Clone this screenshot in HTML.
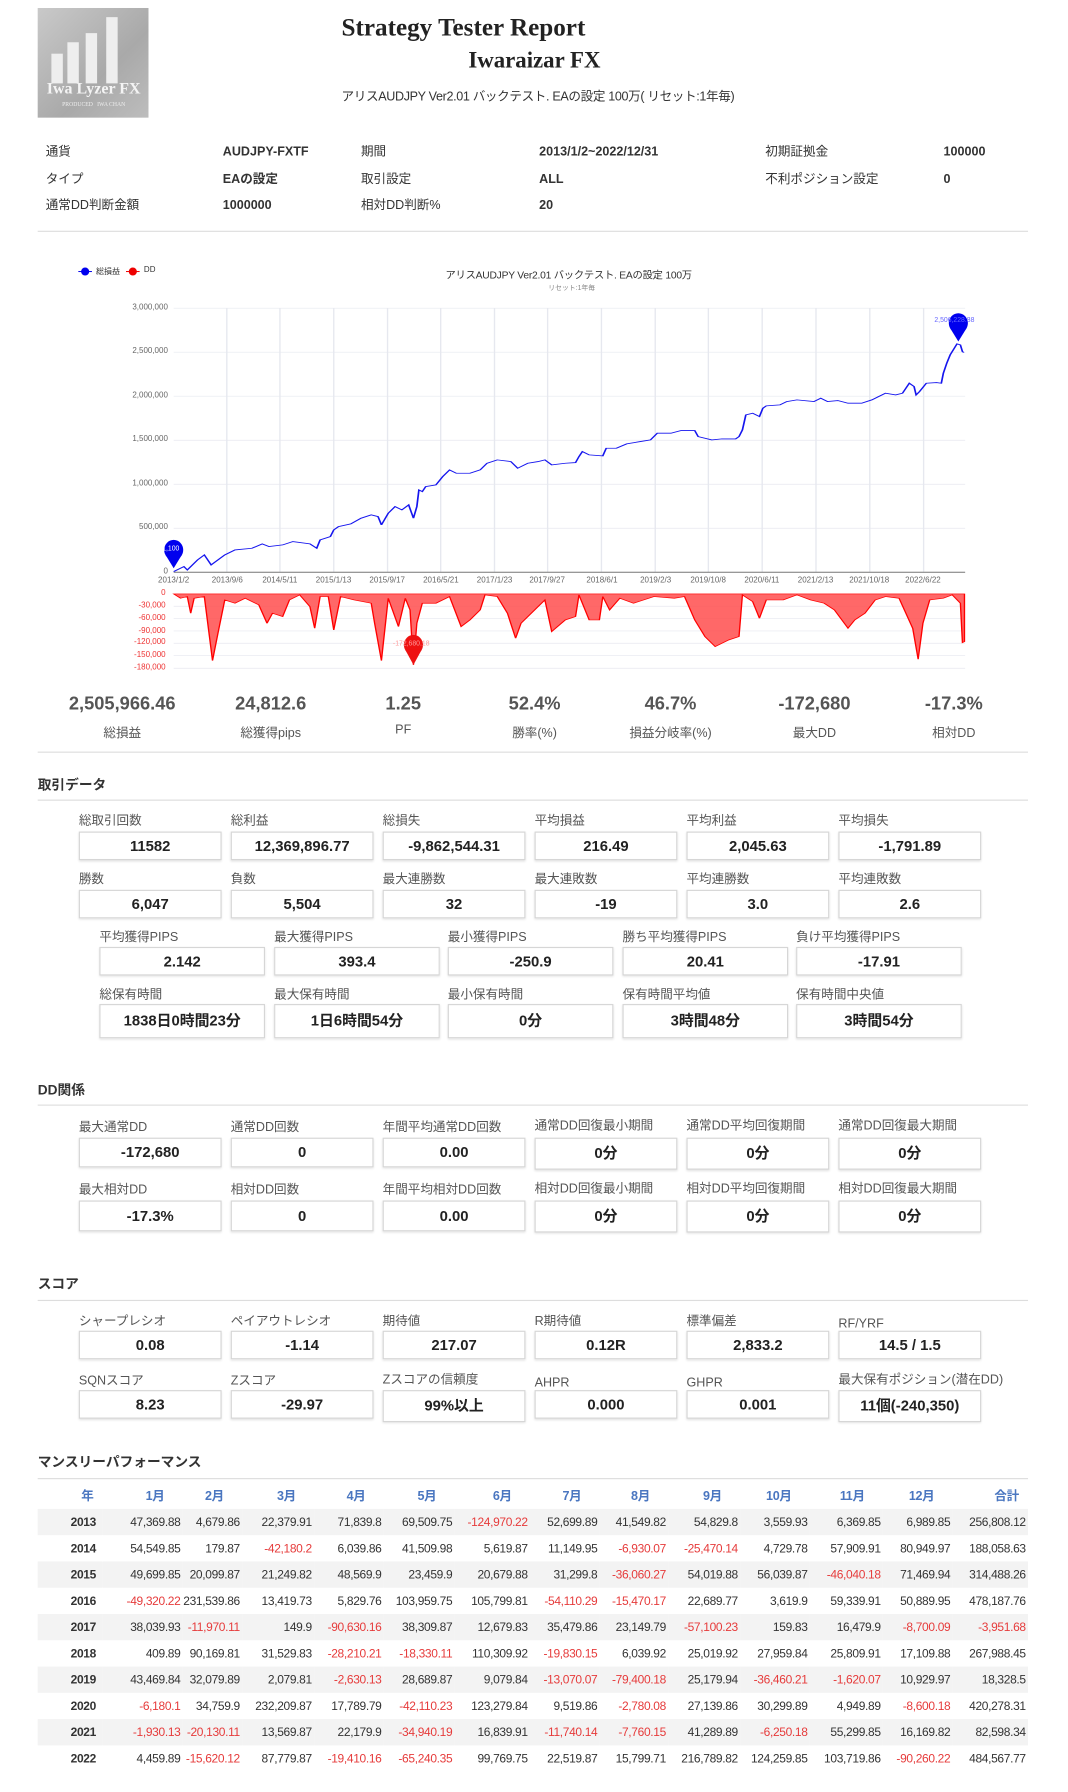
<!DOCTYPE html>
<html><head><meta charset="utf-8">
<style>
html,body{margin:0;padding:0;background:#fff;overflow:hidden;width:1068px;height:1792px}
#w{position:absolute;left:0;top:0;width:935px;height:1569px;transform:scale(1.14225);transform-origin:0 0;font-family:"Liberation Sans","Noto Sans CJK JP",sans-serif;color:#333}
.a{position:absolute;white-space:nowrap}
.lb{position:absolute;font-size:11px;color:#555;line-height:12px;white-space:nowrap}
.bx{position:absolute;border:1px solid #d6d6d6;box-shadow:0 1px 2px rgba(0,0,0,.12);text-align:center;font-weight:bold;font-size:13px;color:#222;box-sizing:border-box;white-space:nowrap}
.hr{position:absolute;left:33px;width:867px;height:1px;background:#ddd}
.h{position:absolute;left:33px;font-size:12px;font-weight:bold;color:#333}
.it{position:absolute;font-size:11px;line-height:12px}
.itb{position:absolute;font-size:11px;line-height:12px;font-weight:bold}
.sv{position:absolute;font-size:16px;font-weight:bold;color:#555;transform:translateX(-50%);white-space:nowrap}
.sl{position:absolute;font-size:11px;color:#555;transform:translateX(-50%);white-space:nowrap}
.yl{position:absolute;font-size:7px;color:#666;text-align:right;width:60px;line-height:8px}
.xl{position:absolute;font-size:7px;color:#666;transform:translateX(-50%);white-space:nowrap;line-height:8px}
.dl{position:absolute;font-size:7px;color:#e33;text-align:right;width:60px;line-height:8px}
table{position:absolute;left:33px;top:1296px;width:867px;border-collapse:collapse;font-size:10.5px;letter-spacing:-0.3px;table-layout:fixed}
td{height:23px;padding:0 2px 0 0;text-align:right;white-space:nowrap;color:#333;box-sizing:border-box;overflow:visible}
th{height:25px;color:#4a76c0;font-weight:bold;text-align:right;padding-right:16px;font-size:11px;box-sizing:border-box}
tr.g td{background:#f3f3f3}
td.y{font-weight:bold;padding-right:6px}
.n{color:#e63b3b!important}
</style></head><body><div id="w">

<div class="a" style="left:33px;top:7px;width:97px;height:96px;background:linear-gradient(135deg,#c9c9c9,#a9a9a9 60%,#bdbdbd);overflow:hidden">
 <div class="a" style="left:12px;top:40px;width:10px;height:26px;background:#eee"></div>
 <div class="a" style="left:26px;top:30px;width:10px;height:36px;background:#eee"></div>
 <div class="a" style="left:42px;top:22px;width:10px;height:44px;background:#eee"></div>
 <div class="a" style="left:60px;top:8px;width:10px;height:58px;background:#eee"></div>
 <div class="a" style="left:3px;top:64px;width:92px;text-align:center;font-family:'Liberation Serif',serif;font-size:14px;font-weight:bold;color:#f4f4f4">Iwa Lyzer FX</div>
 <div class="a" style="left:5px;top:83px;width:88px;text-align:center;font-family:'Liberation Serif',serif;font-size:5px;color:#eee">PRODUCED &nbsp; IWA CHAN</div>
</div>
<div class="a" style="left:299px;top:11px;font-family:'Liberation Serif',serif;font-size:22px;font-weight:bold;color:#222">Strategy Tester Report</div>
<div class="a" style="left:410px;top:42px;font-family:'Liberation Serif',serif;font-size:20px;font-weight:bold;color:#222">Iwaraizar FX</div>
<div class="a" style="left:299px;top:76px;font-size:11px;color:#333;letter-spacing:-0.3px">アリスAUDJPY Ver2.01 バックテスト. EAの設定 100万( リセット:1年毎)</div>

<div class="it" style="left:40px;top:127px">通貨</div><div class="itb" style="left:195px;top:127px">AUDJPY-FXTF</div>
<div class="it" style="left:316px;top:127px">期間</div><div class="itb" style="left:472px;top:127px">2013/1/2~2022/12/31</div>
<div class="it" style="left:670px;top:127px">初期証拠金</div><div class="itb" style="left:826px;top:127px">100000</div>
<div class="it" style="left:40px;top:151px">タイプ</div><div class="itb" style="left:195px;top:151px">EAの設定</div>
<div class="it" style="left:316px;top:151px">取引設定</div><div class="itb" style="left:472px;top:151px">ALL</div>
<div class="it" style="left:670px;top:151px">不利ポジション設定</div><div class="itb" style="left:826px;top:151px">0</div>
<div class="it" style="left:40px;top:174px">通常DD判断金額</div><div class="itb" style="left:195px;top:174px">1000000</div>
<div class="it" style="left:316px;top:174px">相対DD判断%</div><div class="itb" style="left:472px;top:174px">20</div>
<div class="hr" style="top:202px"></div>

<svg class="a" style="left:0;top:210.2px" width="935" height="455.3" viewBox="0 0 1568 1560" preserveAspectRatio="none">
<g stroke="#e6e8ef" stroke-width="2">
<line x1="255" y1="205" x2="1417" y2="205"/><line x1="255" y1="337" x2="1417" y2="337"/><line x1="255" y1="469" x2="1417" y2="469"/><line x1="255" y1="601" x2="1417" y2="601"/><line x1="255" y1="733" x2="1417" y2="733"/><line x1="255" y1="865" x2="1417" y2="865"/>
<line x1="333" y1="205" x2="333" y2="997"/><line x1="411" y1="205" x2="411" y2="997"/><line x1="490" y1="205" x2="490" y2="997"/><line x1="569" y1="205" x2="569" y2="997"/><line x1="647" y1="205" x2="647" y2="997"/><line x1="726" y1="205" x2="726" y2="997"/><line x1="804" y1="205" x2="804" y2="997"/><line x1="883" y1="205" x2="883" y2="997"/><line x1="962" y1="205" x2="962" y2="997"/><line x1="1040" y1="205" x2="1040" y2="997"/><line x1="1119" y1="205" x2="1119" y2="997"/><line x1="1198" y1="205" x2="1198" y2="997"/><line x1="1277" y1="205" x2="1277" y2="997"/><line x1="1356" y1="205" x2="1356" y2="997"/>
<line x1="255" y1="1099" x2="1417" y2="1099"/><line x1="255" y1="1136" x2="1417" y2="1136"/><line x1="255" y1="1173" x2="1417" y2="1173"/><line x1="255" y1="1210" x2="1417" y2="1210"/><line x1="255" y1="1247" x2="1417" y2="1247"/><line x1="255" y1="1285" x2="1417" y2="1285"/>
</g>
<line x1="255" y1="997" x2="1417" y2="997" stroke="#777" stroke-width="3"/>
<polygon fill="#ff4d4d" fill-opacity="0.85" stroke="#f00" stroke-width="2" points="255,1062 265,1075 275,1070 280,1120 285,1075 300,1070 305,1150 312,1262 320,1180 325,1130 330,1080 345,1090 360,1075 380,1095 392,1150 400,1120 415,1130 425,1080 440,1065 455,1100 462,1165 470,1070 482,1070 490,1170 500,1070 520,1080 545,1090 550,1150 560,1262 570,1075 585,1160 595,1075 602,1110 607,1275 612,1150 620,1090 640,1090 660,1070 677,1160 690,1140 705,1110 712,1065 730,1070 745,1120 757,1195 765,1150 785,1110 800,1080 810,1175 830,1140 845,1130 850,1065 865,1140 880,1140 885,1070 895,1110 910,1075 930,1090 960,1070 990,1075 1005,1070 1020,1140 1035,1190 1050,1220 1070,1200 1085,1190 1090,1065 1105,1085 1115,1135 1125,1080 1150,1080 1170,1065 1190,1080 1210,1090 1225,1110 1245,1165 1255,1140 1270,1120 1285,1080 1300,1070 1320,1075 1340,1165 1348,1258 1355,1150 1365,1080 1385,1075 1398,1065 1410,1090 1413,1208 1416,1205 1416,1062"/>
<polyline fill="none" stroke="#1515ee" stroke-width="2.5" points="255,995 270,980 275,990 290,960 300,945 310,975 330,945 345,930 370,925 385,912 395,920 415,915 430,905 455,912 465,925 470,900 485,890 490,870 497,860 515,852 530,835 545,825 555,830 560,855 570,820 580,800 590,810 600,795 607,835 612,800 615,750 620,755 625,740 640,735 650,710 660,690 670,700 690,700 705,690 715,670 730,660 750,665 760,685 775,670 790,665 800,660 810,675 830,670 845,668 850,650 855,635 865,645 885,648 890,625 905,625 920,612 940,605 955,600 965,580 985,580 1000,572 1020,572 1025,590 1045,600 1060,597 1080,597 1085,590 1090,570 1095,525 1105,520 1115,530 1120,505 1125,498 1145,495 1155,485 1170,480 1195,485 1205,475 1215,485 1230,482 1245,490 1265,490 1280,480 1290,470 1300,460 1315,465 1325,460 1335,430 1342,440 1345,465 1350,455 1360,430 1375,428 1382,430 1385,400 1390,370 1395,345 1405,312 1410,315 1413,335 1415,338"/>
<ellipse cx="255" cy="930" rx="14" ry="30" fill="#0000ee"/><polygon points="243,945 267,945 255,985" fill="#0000ee"/>
<ellipse cx="1407" cy="250" rx="14" ry="30" fill="#0000ee"/><polygon points="1395,265 1419,265 1407,305" fill="#0000ee"/>
<ellipse cx="607" cy="1215" rx="14" ry="30" fill="#ee1111"/><polygon points="595,1230 619,1230 607,1275" fill="#ee1111"/>
<line x1="115" y1="95" x2="135" y2="95" stroke="#00e" stroke-width="3"/><ellipse cx="125" cy="95" rx="6" ry="12" fill="#00e"/>
<line x1="185" y1="95" x2="205" y2="95" stroke="#e00" stroke-width="3"/><ellipse cx="195" cy="95" rx="6" ry="12" fill="#e00"/>
</svg>
<div class="a" style="left:84px;top:233px;font-size:7px;color:#333">総損益</div>
<div class="a" style="left:126px;top:233px;font-size:7px;color:#333">DD</div>
<div class="a" style="left:390px;top:234px;font-size:9px;color:#333;letter-spacing:-0.2px">アリスAUDJPY Ver2.01 バックテスト. EAの設定 100万</div>
<div class="a" style="left:480px;top:247px;font-size:6px;color:#888">リセット:1年毎</div>
<div class="yl" style="left:87px;top:266px">3,000,000</div>
<div class="yl" style="left:87px;top:304px">2,500,000</div>
<div class="yl" style="left:87px;top:343px">2,000,000</div>
<div class="yl" style="left:87px;top:381px">1,500,000</div>
<div class="yl" style="left:87px;top:420px">1,000,000</div>
<div class="yl" style="left:87px;top:458px">500,000</div>
<div class="yl" style="left:87px;top:497px">0</div>
<div class="xl" style="left:152px;top:505px">2013/1/2</div><div class="xl" style="left:199px;top:505px">2013/9/6</div><div class="xl" style="left:245px;top:505px">2014/5/11</div><div class="xl" style="left:292px;top:505px">2015/1/13</div><div class="xl" style="left:339px;top:505px">2015/9/17</div><div class="xl" style="left:386px;top:505px">2016/5/21</div><div class="xl" style="left:433px;top:505px">2017/1/23</div><div class="xl" style="left:479px;top:505px">2017/9/27</div><div class="xl" style="left:527px;top:505px">2018/6/1</div><div class="xl" style="left:574px;top:505px">2019/2/3</div><div class="xl" style="left:620px;top:505px">2019/10/8</div><div class="xl" style="left:667px;top:505px">2020/6/11</div><div class="xl" style="left:714px;top:505px">2021/2/13</div><div class="xl" style="left:761px;top:505px">2021/10/18</div><div class="xl" style="left:808px;top:505px">2022/6/22</div>
<div class="dl" style="left:85px;top:516px">0</div>
<div class="dl" style="left:85px;top:527px">-30,000</div>
<div class="dl" style="left:85px;top:538px">-60,000</div>
<div class="dl" style="left:85px;top:549px">-90,000</div>
<div class="dl" style="left:85px;top:559px">-120,000</div>
<div class="dl" style="left:85px;top:570px">-150,000</div>
<div class="dl" style="left:85px;top:581px">-180,000</div>
<div class="a" style="left:142px;top:478px;font-size:6px;color:#fff">1,100</div>
<div class="a" style="left:818px;top:278px;font-size:6px;color:#66f">2,506,228.88</div>
<div class="a" style="left:344px;top:561px;font-size:6px;color:#f99">-172,680.18</div>

<div class="sv" style="left:107px;top:608px">2,505,966.46</div><div class="sl" style="left:107px;top:633px">総損益</div>
<div class="sv" style="left:237px;top:608px">24,812.6</div><div class="sl" style="left:237px;top:633px">総獲得pips</div>
<div class="sv" style="left:353px;top:608px">1.25</div><div class="sl" style="left:353px;top:633px">PF</div>
<div class="sv" style="left:468px;top:608px">52.4%</div><div class="sl" style="left:468px;top:633px">勝率(%)</div>
<div class="sv" style="left:587px;top:608px">46.7%</div><div class="sl" style="left:587px;top:633px">損益分岐率(%)</div>
<div class="sv" style="left:713px;top:608px">-172,680</div><div class="sl" style="left:713px;top:633px">最大DD</div>
<div class="sv" style="left:835px;top:608px">-17.3%</div><div class="sl" style="left:835px;top:633px">相対DD</div>
<div class="hr" style="top:658px"></div>

<div class="h" style="top:678px">取引データ</div>
<div class="hr" style="top:700px"></div>
<div class="lb" style="left:69px;top:713px">総取引回数</div><div class="bx" style="left:69px;top:728px;width:125px;height:25px;line-height:23px">11582</div>
<div class="lb" style="left:202px;top:713px">総利益</div><div class="bx" style="left:202px;top:728px;width:125px;height:25px;line-height:23px">12,369,896.77</div>
<div class="lb" style="left:335px;top:713px">総損失</div><div class="bx" style="left:335px;top:728px;width:125px;height:25px;line-height:23px">-9,862,544.31</div>
<div class="lb" style="left:468px;top:713px">平均損益</div><div class="bx" style="left:468px;top:728px;width:125px;height:25px;line-height:23px">216.49</div>
<div class="lb" style="left:601px;top:713px">平均利益</div><div class="bx" style="left:601px;top:728px;width:125px;height:25px;line-height:23px">2,045.63</div>
<div class="lb" style="left:734px;top:713px">平均損失</div><div class="bx" style="left:734px;top:728px;width:125px;height:25px;line-height:23px">-1,791.89</div>
<div class="lb" style="left:69px;top:764px">勝数</div><div class="bx" style="left:69px;top:779px;width:125px;height:25px;line-height:23px">6,047</div>
<div class="lb" style="left:202px;top:764px">負数</div><div class="bx" style="left:202px;top:779px;width:125px;height:25px;line-height:23px">5,504</div>
<div class="lb" style="left:335px;top:764px">最大連勝数</div><div class="bx" style="left:335px;top:779px;width:125px;height:25px;line-height:23px">32</div>
<div class="lb" style="left:468px;top:764px">最大連敗数</div><div class="bx" style="left:468px;top:779px;width:125px;height:25px;line-height:23px">-19</div>
<div class="lb" style="left:601px;top:764px">平均連勝数</div><div class="bx" style="left:601px;top:779px;width:125px;height:25px;line-height:23px">3.0</div>
<div class="lb" style="left:734px;top:764px">平均連敗数</div><div class="bx" style="left:734px;top:779px;width:125px;height:25px;line-height:23px">2.6</div>
<div class="lb" style="left:87px;top:815px">平均獲得PIPS</div><div class="bx" style="left:87px;top:829px;width:145px;height:25px;line-height:23px">2.142</div>
<div class="lb" style="left:240px;top:815px">最大獲得PIPS</div><div class="bx" style="left:240px;top:829px;width:145px;height:25px;line-height:23px">393.4</div>
<div class="lb" style="left:392px;top:815px">最小獲得PIPS</div><div class="bx" style="left:392px;top:829px;width:145px;height:25px;line-height:23px">-250.9</div>
<div class="lb" style="left:545px;top:815px">勝ち平均獲得PIPS</div><div class="bx" style="left:545px;top:829px;width:145px;height:25px;line-height:23px">20.41</div>
<div class="lb" style="left:697px;top:815px">負け平均獲得PIPS</div><div class="bx" style="left:697px;top:829px;width:145px;height:25px;line-height:23px">-17.91</div>
<div class="lb" style="left:87px;top:865px">総保有時間</div><div class="bx" style="left:87px;top:879px;width:145px;height:30px;line-height:28px">1838日0時間23分</div>
<div class="lb" style="left:240px;top:865px">最大保有時間</div><div class="bx" style="left:240px;top:879px;width:145px;height:30px;line-height:28px">1日6時間54分</div>
<div class="lb" style="left:392px;top:865px">最小保有時間</div><div class="bx" style="left:392px;top:879px;width:145px;height:30px;line-height:28px">0分</div>
<div class="lb" style="left:545px;top:865px">保有時間平均値</div><div class="bx" style="left:545px;top:879px;width:145px;height:30px;line-height:28px">3時間48分</div>
<div class="lb" style="left:697px;top:865px">保有時間中央値</div><div class="bx" style="left:697px;top:879px;width:145px;height:30px;line-height:28px">3時間54分</div>

<div class="h" style="top:945px">DD関係</div>
<div class="hr" style="top:967px"></div>
<div class="lb" style="left:69px;top:981px">最大通常DD</div><div class="bx" style="left:69px;top:996px;width:125px;height:26px;line-height:24px">-172,680</div>
<div class="lb" style="left:202px;top:981px">通常DD回数</div><div class="bx" style="left:202px;top:996px;width:125px;height:26px;line-height:24px">0</div>
<div class="lb" style="left:335px;top:981px">年間平均通常DD回数</div><div class="bx" style="left:335px;top:996px;width:125px;height:26px;line-height:24px">0.00</div>
<div class="lb" style="left:468px;top:980px">通常DD回復最小期間</div><div class="bx" style="left:468px;top:996px;width:125px;height:28px;line-height:26px">0分</div>
<div class="lb" style="left:601px;top:980px">通常DD平均回復期間</div><div class="bx" style="left:601px;top:996px;width:125px;height:28px;line-height:26px">0分</div>
<div class="lb" style="left:734px;top:980px">通常DD回復最大期間</div><div class="bx" style="left:734px;top:996px;width:125px;height:28px;line-height:26px">0分</div>
<div class="lb" style="left:69px;top:1036px">最大相対DD</div><div class="bx" style="left:69px;top:1051px;width:125px;height:27px;line-height:25px">-17.3%</div>
<div class="lb" style="left:202px;top:1036px">相対DD回数</div><div class="bx" style="left:202px;top:1051px;width:125px;height:27px;line-height:25px">0</div>
<div class="lb" style="left:335px;top:1036px">年間平均相対DD回数</div><div class="bx" style="left:335px;top:1051px;width:125px;height:27px;line-height:25px">0.00</div>
<div class="lb" style="left:468px;top:1035px">相対DD回復最小期間</div><div class="bx" style="left:468px;top:1051px;width:125px;height:28px;line-height:26px">0分</div>
<div class="lb" style="left:601px;top:1035px">相対DD平均回復期間</div><div class="bx" style="left:601px;top:1051px;width:125px;height:28px;line-height:26px">0分</div>
<div class="lb" style="left:734px;top:1035px">相対DD回復最大期間</div><div class="bx" style="left:734px;top:1051px;width:125px;height:28px;line-height:26px">0分</div>

<div class="h" style="top:1115px">スコア</div>
<div class="hr" style="top:1138px"></div>
<div class="lb" style="left:69px;top:1151px">シャープレシオ</div><div class="bx" style="left:69px;top:1165px;width:125px;height:25px;line-height:23px">0.08</div>
<div class="lb" style="left:202px;top:1151px">ペイアウトレシオ</div><div class="bx" style="left:202px;top:1165px;width:125px;height:25px;line-height:23px">-1.14</div>
<div class="lb" style="left:335px;top:1151px">期待値</div><div class="bx" style="left:335px;top:1165px;width:125px;height:25px;line-height:23px">217.07</div>
<div class="lb" style="left:468px;top:1151px">R期待値</div><div class="bx" style="left:468px;top:1165px;width:125px;height:25px;line-height:23px">0.12R</div>
<div class="lb" style="left:601px;top:1151px">標準偏差</div><div class="bx" style="left:601px;top:1165px;width:125px;height:25px;line-height:23px">2,833.2</div>
<div class="lb" style="left:734px;top:1153px">RF/YRF</div><div class="bx" style="left:734px;top:1165px;width:125px;height:25px;line-height:23px">14.5 / 1.5</div>
<div class="lb" style="left:69px;top:1203px">SQNスコア</div><div class="bx" style="left:69px;top:1217px;width:125px;height:25px;line-height:23px">8.23</div>
<div class="lb" style="left:202px;top:1203px">Zスコア</div><div class="bx" style="left:202px;top:1217px;width:125px;height:25px;line-height:23px">-29.97</div>
<div class="lb" style="left:335px;top:1202px">Zスコアの信頼度</div><div class="bx" style="left:335px;top:1217px;width:125px;height:28px;line-height:26px">99%以上</div>
<div class="lb" style="left:468px;top:1205px">AHPR</div><div class="bx" style="left:468px;top:1217px;width:125px;height:25px;line-height:23px">0.000</div>
<div class="lb" style="left:601px;top:1205px">GHPR</div><div class="bx" style="left:601px;top:1217px;width:125px;height:25px;line-height:23px">0.001</div>
<div class="lb" style="left:734px;top:1202px">最大保有ポジション(潜在DD)</div><div class="bx" style="left:734px;top:1217px;width:125px;height:28px;line-height:26px">11個(-240,350)</div>

<div class="h" style="top:1271px">マンスリーパフォーマンス</div>
<div class="hr" style="top:1294px"></div>
<table>
<colgroup><col style="width:57px"><col style="width:70px"><col style="width:52px"><col style="width:63px"><col style="width:61px"><col style="width:62px"><col style="width:66px"><col style="width:61px"><col style="width:60px"><col style="width:63px"><col style="width:61px"><col style="width:64px"><col style="width:61px"><col style="width:66px"></colgroup>
<tr><th style="text-align:center;padding:0 0 0 30px">年</th><th>1月</th><th>2月</th><th>3月</th><th>4月</th><th>5月</th><th>6月</th><th>7月</th><th>8月</th><th>9月</th><th>10月</th><th>11月</th><th>12月</th><th style="padding-right:8px">合計</th></tr>
<tr class="g"><td class="y">2013</td><td>47,369.88</td><td>4,679.86</td><td>22,379.91</td><td>71,839.8</td><td>69,509.75</td><td class="n">-124,970.22</td><td>52,699.89</td><td>41,549.82</td><td>54,829.8</td><td>3,559.93</td><td>6,369.85</td><td>6,989.85</td><td>256,808.12</td></tr>
<tr><td class="y">2014</td><td>54,549.85</td><td>179.87</td><td class="n">-42,180.2</td><td>6,039.86</td><td>41,509.98</td><td>5,619.87</td><td>11,149.95</td><td class="n">-6,930.07</td><td class="n">-25,470.14</td><td>4,729.78</td><td>57,909.91</td><td>80,949.97</td><td>188,058.63</td></tr>
<tr class="g"><td class="y">2015</td><td>49,699.85</td><td>20,099.87</td><td>21,249.82</td><td>48,569.9</td><td>23,459.9</td><td>20,679.88</td><td>31,299.8</td><td class="n">-36,060.27</td><td>54,019.88</td><td>56,039.87</td><td class="n">-46,040.18</td><td>71,469.94</td><td>314,488.26</td></tr>
<tr><td class="y">2016</td><td class="n">-49,320.22</td><td>231,539.86</td><td>13,419.73</td><td>5,829.76</td><td>103,959.75</td><td>105,799.81</td><td class="n">-54,110.29</td><td class="n">-15,470.17</td><td>22,689.77</td><td>3,619.9</td><td>59,339.91</td><td>50,889.95</td><td>478,187.76</td></tr>
<tr class="g"><td class="y">2017</td><td>38,039.93</td><td class="n">-11,970.11</td><td>149.9</td><td class="n">-90,630.16</td><td>38,309.87</td><td>12,679.83</td><td>35,479.86</td><td>23,149.79</td><td class="n">-57,100.23</td><td>159.83</td><td>16,479.9</td><td class="n">-8,700.09</td><td class="n">-3,951.68</td></tr>
<tr><td class="y">2018</td><td>409.89</td><td>90,169.81</td><td>31,529.83</td><td class="n">-28,210.21</td><td class="n">-18,330.11</td><td>110,309.92</td><td class="n">-19,830.15</td><td>6,039.92</td><td>25,019.92</td><td>27,959.84</td><td>25,809.91</td><td>17,109.88</td><td>267,988.45</td></tr>
<tr class="g"><td class="y">2019</td><td>43,469.84</td><td>32,079.89</td><td>2,079.81</td><td class="n">-2,630.13</td><td>28,689.87</td><td>9,079.84</td><td class="n">-13,070.07</td><td class="n">-79,400.18</td><td>25,179.94</td><td class="n">-36,460.21</td><td class="n">-1,620.07</td><td>10,929.97</td><td>18,328.5</td></tr>
<tr><td class="y">2020</td><td class="n">-6,180.1</td><td>34,759.9</td><td>232,209.87</td><td>17,789.79</td><td class="n">-42,110.23</td><td>123,279.84</td><td>9,519.86</td><td class="n">-2,780.08</td><td>27,139.86</td><td>30,299.89</td><td>4,949.89</td><td class="n">-8,600.18</td><td>420,278.31</td></tr>
<tr class="g"><td class="y">2021</td><td class="n">-1,930.13</td><td class="n">-20,130.11</td><td>13,569.87</td><td>22,179.9</td><td class="n">-34,940.19</td><td>16,839.91</td><td class="n">-11,740.14</td><td class="n">-7,760.15</td><td>41,289.89</td><td class="n">-6,250.18</td><td>55,299.85</td><td>16,169.82</td><td>82,598.34</td></tr>
<tr><td class="y">2022</td><td>4,459.89</td><td class="n">-15,620.12</td><td>87,779.87</td><td class="n">-19,410.16</td><td class="n">-65,240.35</td><td>99,769.75</td><td>22,519.87</td><td>15,799.71</td><td>216,789.82</td><td>124,259.85</td><td>103,719.86</td><td class="n">-90,260.22</td><td>484,567.77</td></tr>
</table>
</div></body></html>
